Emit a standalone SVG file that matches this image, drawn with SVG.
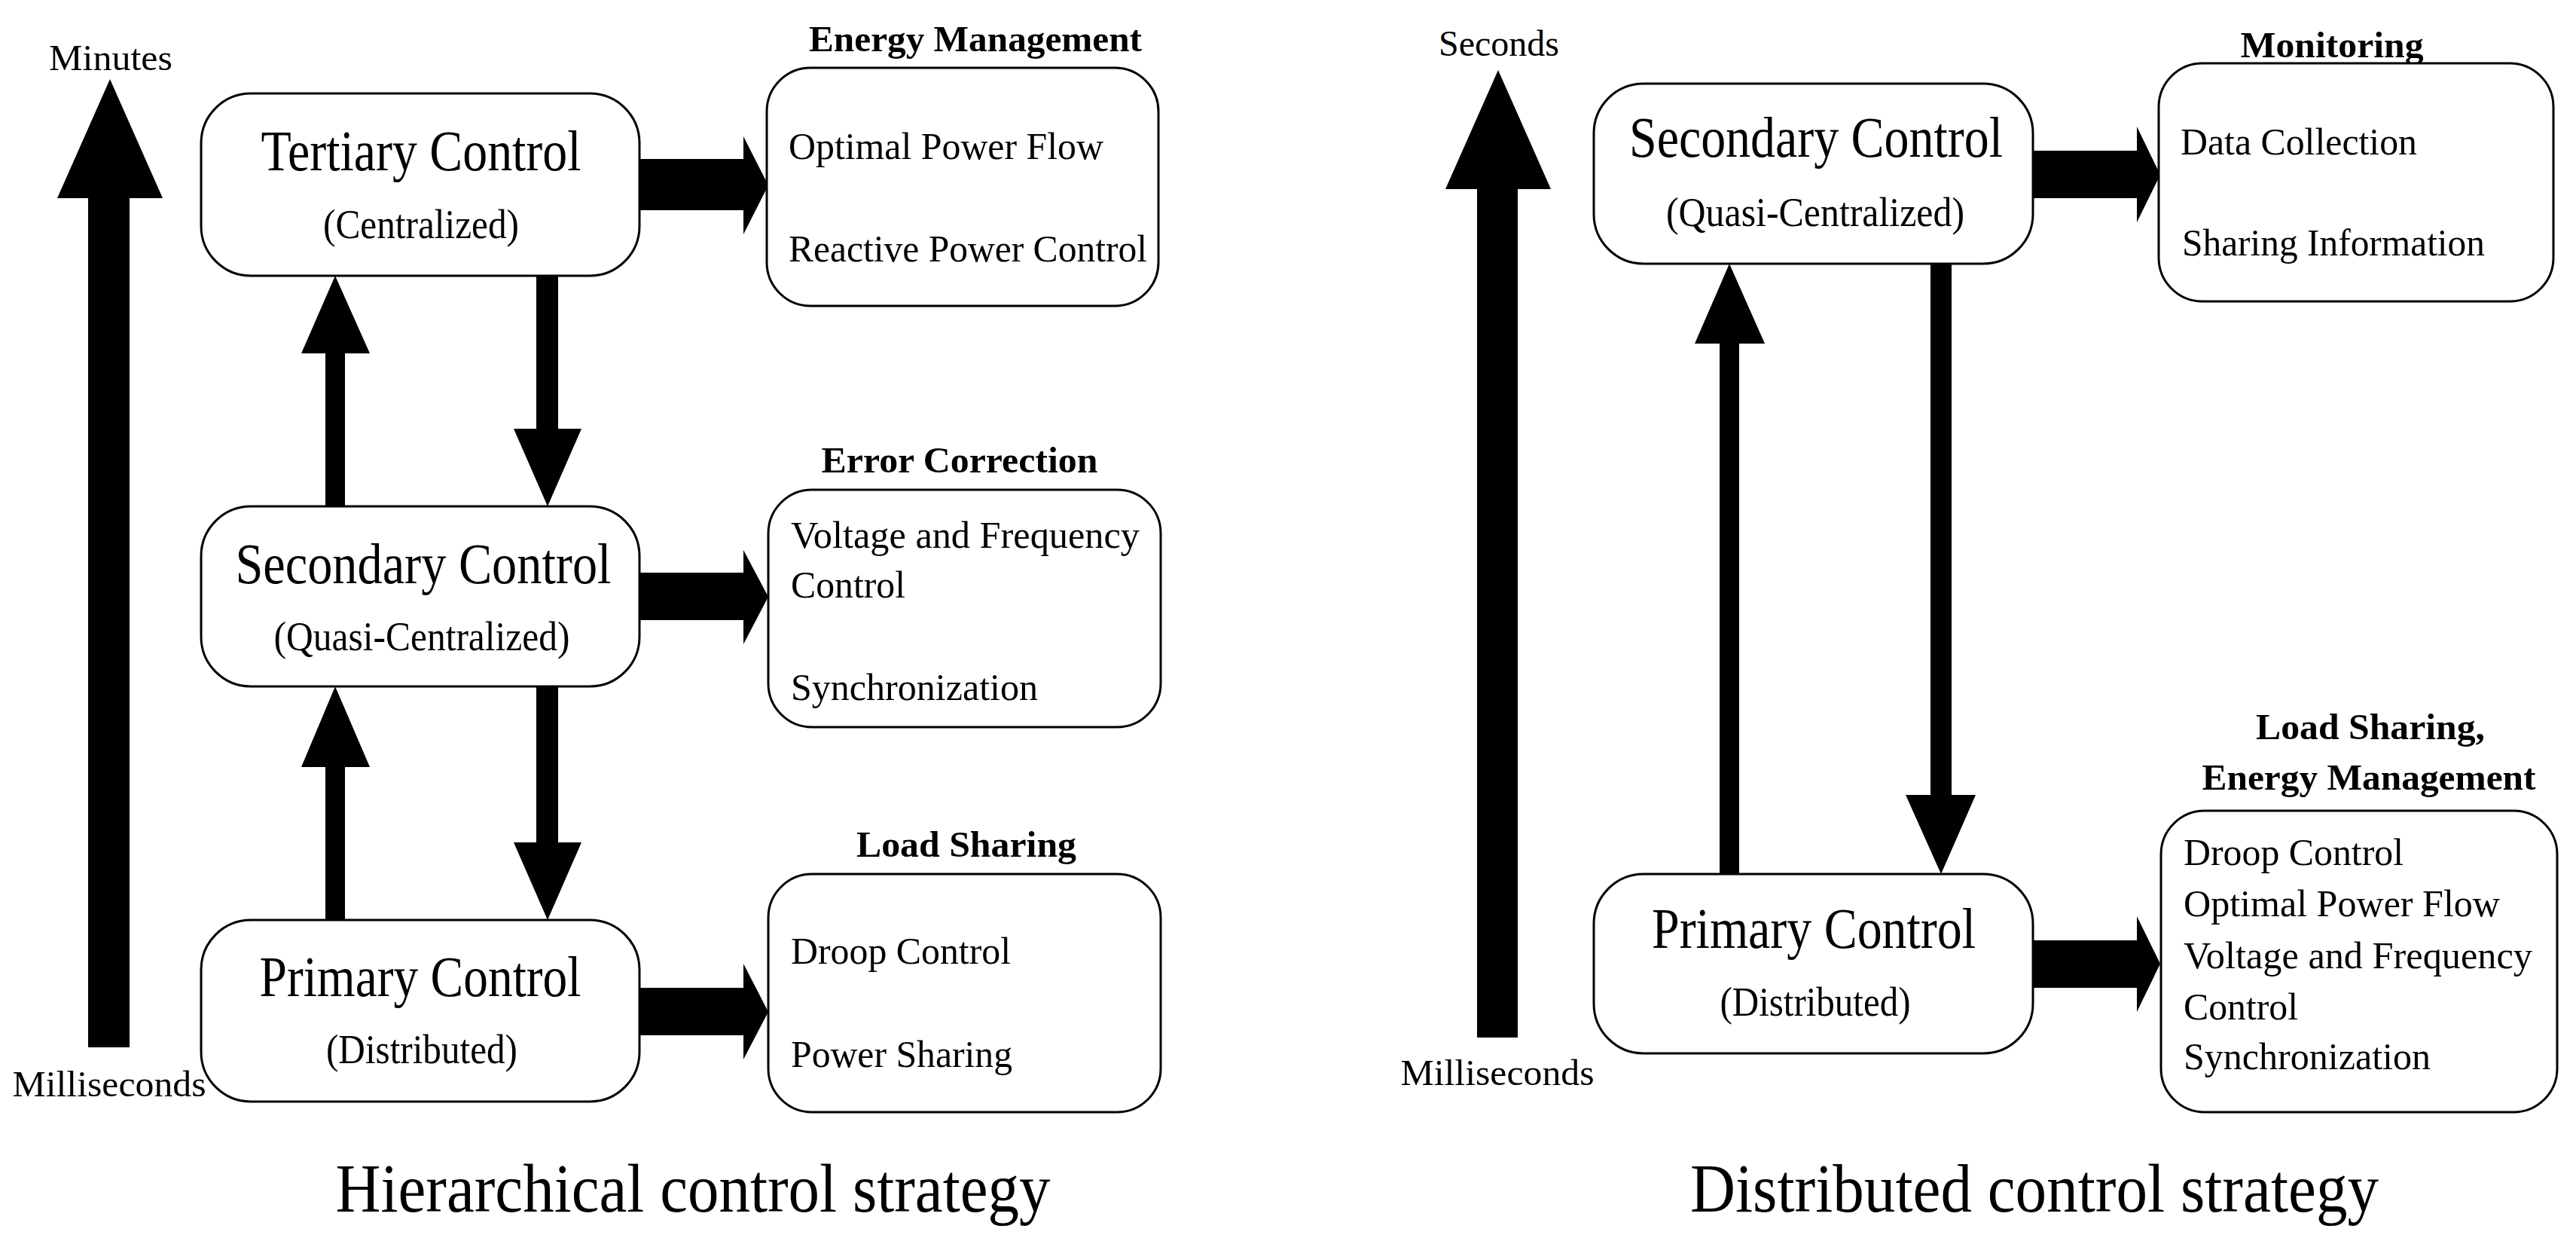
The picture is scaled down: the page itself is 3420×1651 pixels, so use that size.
<svg xmlns="http://www.w3.org/2000/svg" width="3420" height="1651" viewBox="0 0 3420 1651">
<style>
text{font-family:"Liberation Serif","Times New Roman",serif;fill:#000}
.box{fill:#fff;stroke:#000;stroke-width:3}
.big{font-size:76px;text-anchor:middle}
.sub{font-size:54px;text-anchor:middle}
.item{font-size:50px}
.hdr{font-size:48px;font-weight:bold;text-anchor:middle}
.axis{font-size:48px;text-anchor:middle}
.title{font-size:92px;text-anchor:middle}
.arr{fill:#000}
</style>
<rect width="3420" height="1651" fill="#fff"/>
<g id="connectors">
<polygon class="arr" points="117,1390 172,1390 172,263 216,263 146,105 76,263 117,263"/>
<polygon class="arr" points="849,211 987,211 987,181 1020,246 987,311 987,279 849,279"/>
<polygon class="arr" points="849,760 987,760 987,730 1020,792 987,855 987,823 849,823"/>
<polygon class="arr" points="849,1311 987,1311 987,1279 1020,1343 987,1406 987,1374 849,1374"/>
<polygon class="arr" points="432,672 458,672 458,469 491,469 445,366 400,469 432,469"/>
<polygon class="arr" points="432,1221 458,1221 458,1018 491,1018 445,911 400,1018 432,1018"/>
<polygon class="arr" points="712,366 741,366 741,569 772,569 727,672 682,569 712,569"/>
<polygon class="arr" points="712,911 741,911 741,1118 772,1118 727,1221 682,1118 712,1118"/>
<polygon class="arr" points="1961,1377 2015,1377 2015,251 2059,251 1989,93 1919,251 1961,251"/>
<polygon class="arr" points="2699,200 2837,200 2837,168 2868,232 2837,295 2837,263 2699,263"/>
<polygon class="arr" points="2699,1248 2837,1248 2837,1216 2868,1279 2837,1343 2837,1311 2699,1311"/>
<polygon class="arr" points="2283,1160 2309,1160 2309,456 2343,456 2296,350 2250,456 2283,456"/>
<polygon class="arr" points="2563,350 2591,350 2591,1055 2623,1055 2577,1160 2530,1055 2563,1055"/>
</g>
<g id="axis-left">
<text class="axis" x="147" y="93" textLength="164" lengthAdjust="spacingAndGlyphs">Minutes</text>
<text class="axis" x="145" y="1455" textLength="257" lengthAdjust="spacingAndGlyphs">Milliseconds</text>
</g>
<g id="tertiary">
<rect class="box" x="267" y="124" width="582" height="242" rx="66"/>
<text class="big" x="559" y="226" textLength="425" lengthAdjust="spacingAndGlyphs">Tertiary Control</text>
<text class="sub" x="559" y="316" textLength="260" lengthAdjust="spacingAndGlyphs">(Centralized)</text>
</g>
<g id="secondary-h">
<rect class="box" x="267" y="672" width="582" height="239" rx="66"/>
<text class="big" x="562" y="774" textLength="499" lengthAdjust="spacingAndGlyphs">Secondary Control</text>
<text class="sub" x="560" y="863" textLength="393" lengthAdjust="spacingAndGlyphs">(Quasi-Centralized)</text>
</g>
<g id="primary-h">
<rect class="box" x="267" y="1221" width="582" height="241" rx="66"/>
<text class="big" x="558" y="1322" textLength="427" lengthAdjust="spacingAndGlyphs">Primary Control</text>
<text class="sub" x="560" y="1411" textLength="254" lengthAdjust="spacingAndGlyphs">(Distributed)</text>
</g>
<g id="energy-mgmt">
<text class="hdr" x="1295" y="68" textLength="442" lengthAdjust="spacingAndGlyphs">Energy Management</text>
<rect class="box" x="1018" y="90" width="520" height="316" rx="58"/>
<text class="item" x="1047" y="211" textLength="418" lengthAdjust="spacingAndGlyphs">Optimal Power Flow</text>
<text class="item" x="1047" y="347" textLength="476" lengthAdjust="spacingAndGlyphs">Reactive Power Control</text>
</g>
<g id="error-correction">
<text class="hdr" x="1274" y="627" textLength="367" lengthAdjust="spacingAndGlyphs">Error Correction</text>
<rect class="box" x="1020" y="650" width="521" height="315" rx="58"/>
<text class="item" x="1050" y="727" textLength="463" lengthAdjust="spacingAndGlyphs">Voltage and Frequency</text>
<text class="item" x="1050" y="793" textLength="152" lengthAdjust="spacingAndGlyphs">Control</text>
<text class="item" x="1050" y="929" textLength="328" lengthAdjust="spacingAndGlyphs">Synchronization</text>
</g>
<g id="load-sharing">
<text class="hdr" x="1283" y="1137" textLength="292" lengthAdjust="spacingAndGlyphs">Load Sharing</text>
<rect class="box" x="1020" y="1160" width="521" height="316" rx="58"/>
<text class="item" x="1050" y="1279" textLength="292" lengthAdjust="spacingAndGlyphs">Droop Control</text>
<text class="item" x="1050" y="1416" textLength="294" lengthAdjust="spacingAndGlyphs">Power Sharing</text>
</g>
<text class="title" x="920" y="1608" textLength="949" lengthAdjust="spacingAndGlyphs">Hierarchical control strategy</text>
<g id="axis-right">
<text class="axis" x="1990" y="74" textLength="160" lengthAdjust="spacingAndGlyphs">Seconds</text>
<text class="axis" x="1988" y="1440" textLength="257" lengthAdjust="spacingAndGlyphs">Milliseconds</text>
</g>
<g id="secondary-d">
<rect class="box" x="2116" y="111" width="583" height="239" rx="66"/>
<text class="big" x="2411" y="208" textLength="496" lengthAdjust="spacingAndGlyphs">Secondary Control</text>
<text class="sub" x="2410" y="300" textLength="396" lengthAdjust="spacingAndGlyphs">(Quasi-Centralized)</text>
</g>
<g id="primary-d">
<rect class="box" x="2116" y="1160" width="583" height="238" rx="66"/>
<text class="big" x="2408" y="1258" textLength="430" lengthAdjust="spacingAndGlyphs">Primary Control</text>
<text class="sub" x="2410" y="1348" textLength="253" lengthAdjust="spacingAndGlyphs">(Distributed)</text>
</g>
<g id="monitoring">
<text class="hdr" x="3096" y="76" textLength="243" lengthAdjust="spacingAndGlyphs">Monitoring</text>
<rect class="box" x="2866" y="84" width="524" height="316" rx="58"/>
<text class="item" x="2895" y="205" textLength="314" lengthAdjust="spacingAndGlyphs">Data Collection</text>
<text class="item" x="2897" y="339" textLength="402" lengthAdjust="spacingAndGlyphs">Sharing Information</text>
</g>
<g id="load-energy">
<text class="hdr" x="3147" y="981" textLength="304" lengthAdjust="spacingAndGlyphs">Load Sharing,</text>
<text class="hdr" x="3145" y="1048" textLength="443" lengthAdjust="spacingAndGlyphs">Energy Management</text>
<rect class="box" x="2869" y="1076" width="526" height="400" rx="58"/>
<text class="item" x="2899" y="1148" textLength="292" lengthAdjust="spacingAndGlyphs">Droop Control</text>
<text class="item" x="2899" y="1216" textLength="420" lengthAdjust="spacingAndGlyphs">Optimal Power Flow</text>
<text class="item" x="2899" y="1285" textLength="463" lengthAdjust="spacingAndGlyphs">Voltage and Frequency</text>
<text class="item" x="2899" y="1353" textLength="152" lengthAdjust="spacingAndGlyphs">Control</text>
<text class="item" x="2899" y="1419" textLength="328" lengthAdjust="spacingAndGlyphs">Synchronization</text>
</g>
<text class="title" x="2701" y="1608" textLength="914" lengthAdjust="spacingAndGlyphs">Distributed control strategy</text>
</svg>
